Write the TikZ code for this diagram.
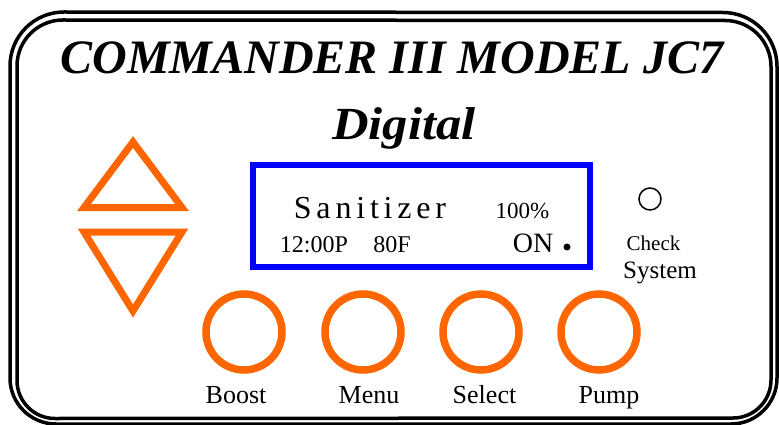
\documentclass[tikz,border=0pt]{standalone}
\usepackage{fontspec}
\setmainfont{Liberation Serif}
\definecolor{btnorange}{HTML}{FF6600}
\definecolor{lcdblue}{HTML}{0000FF}
\begin{document}
\begin{tikzpicture}[x=1pt,y=-1pt,
  frame/.style={draw=black,line width=3.5pt},
  tri/.style={draw=btnorange,line width=7pt,line join=miter},
  btn/.style={circle,draw=btnorange,line width=7.5pt,minimum size=76pt,inner sep=0pt},
  lbl/.style={font=\fontsize{26}{30}\selectfont,anchor=base,inner sep=0pt},
  lcd/.style={font=\fontsize{24}{28}\selectfont,anchor=base,inner sep=0pt}]
\useasboundingbox (0,0) rectangle (779,425);
% frame
\draw[frame] (10,66) arc[start angle=180,end angle=270,radius=54] -- (723,12.5)
  arc[start angle=270,end angle=360,radius=54] -- (777,378)
  arc[start angle=0,end angle=90,radius=46] -- (56,424)
  arc[start angle=90,end angle=180,radius=46] -- cycle;
\draw[frame] (17,66) arc[start angle=180,end angle=270,radius=46] -- (725,20.5)
  arc[start angle=270,end angle=360,radius=46] -- (771,380)
  arc[start angle=0,end angle=90,radius=38] -- (55,418.5)
  arc[start angle=90,end angle=180,radius=38] -- cycle;
% titles
\node[anchor=base,inner sep=0pt,font=\fontsize{48}{52}\selectfont\bfseries\itshape] (title) at (392,74) {COMMANDER III MODEL JC7};
\node[anchor=base,inner sep=0pt,font=\fontsize{46}{50}\selectfont\bfseries\itshape] (digital) at (404,140) {\scalebox{1.1}[1]{Digital}};
% arrows
\draw[tri] (133,142) -- (182,207.5) -- (84,207.5) -- cycle;
\draw[tri] (84,232) -- (182,232) -- (133,311) -- cycle;
% display
\draw[lcdblue,line width=5.5pt] (253,165) rectangle (590,267);
\node[anchor=base,inner sep=0pt,font=\fontsize{32}{36}\selectfont\addfontfeature{LetterSpace=15}] (san) at (370,218) {Sanitizer};
\node[lcd,font=\fontsize{23}{26}\selectfont] (pct) at (522.5,218) {100\%};
\node[lcd] (time) at (314,252) {12:00P};
\node[lcd] (temp) at (392,252) {80F};
\node[lcd,font=\fontsize{28}{32}\selectfont] (on) at (533,252) {ON};
\fill (567,247) circle (3.5);
% check system
\draw[line width=1.5pt] (650,199) circle (11);
\node[anchor=base,inner sep=0pt,font=\fontsize{21}{24}\selectfont] (check) at (653.5,250) {Check};
\node[anchor=base,inner sep=0pt,font=\fontsize{25}{28}\selectfont] (system) at (660,278) {System};
% buttons
\node[btn] (boost) at (244,332) {};
\node[btn] (menu) at (363,332) {};
\node[btn] (select) at (481,332) {};
\node[btn] (pump) at (599,332) {};
\node[lbl] (lboost) at (236,403) {Boost};
\node[lbl] (lmenu) at (369,403) {Menu};
\node[lbl] (lselect) at (484.5,403) {Select};
\node[lbl] (lpump) at (609,403) {Pump};
\end{tikzpicture}
\end{document}
